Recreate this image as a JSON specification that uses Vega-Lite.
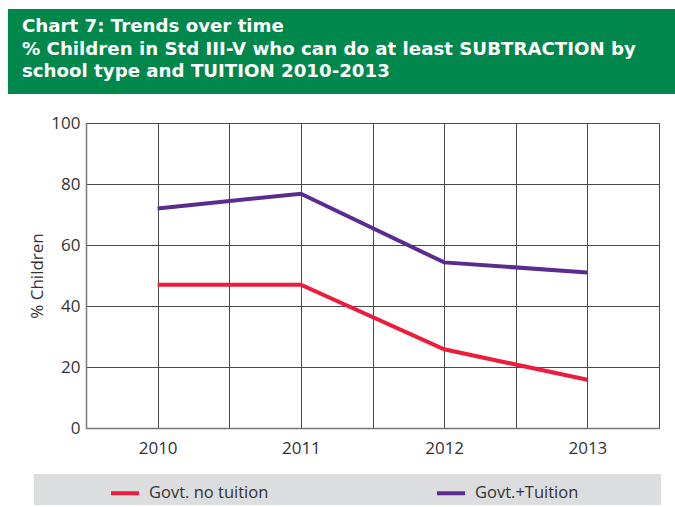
{
  "$schema": "https://vega.github.io/schema/vega-lite/v6.json",
  "background": "white",
  "padding": {"left": 8, "top": 9, "right": 0, "bottom": 0},
  "config": {"font": "Open Sans", "view": {"stroke": null}},
  "spacing": 20,
  "vconcat": [
    {
      "width": 667,
      "height": 85,
      "view": {"fill": "#00874b", "stroke": null},
      "data": {"values": [
        {"line": 1, "text": "Chart 7: Trends over time"},
        {"line": 2, "text": "% Children in Std III-V who can do at least SUBTRACTION by"},
        {"line": 3, "text": "school type and TUITION 2010-2013"}
      ]},
      "mark": {"type": "text", "align": "left", "baseline": "alphabetic", "color": "white", "font": "DejaVu Sans", "fontWeight": "bold", "fontSize": 18.2, "dx": 14, "dy": 3},
      "encoding": {
        "x": {"datum": 0, "type": "quantitative", "scale": {"domain": [0, 1]}, "axis": null},
        "y": {"field": "line", "type": "ordinal", "scale": {"type": "point", "padding": 0.89}, "axis": null},
        "text": {"field": "text"}
      }
    },
    {
      "width": 651,
      "height": 305,
      "view": {"stroke": null},
      "data": {"values": [
        {"year": 2010, "value": 47, "series": "Govt. no tuition"},
        {"year": 2011, "value": 47, "series": "Govt. no tuition"},
        {"year": 2012, "value": 25.8, "series": "Govt. no tuition"},
        {"year": 2013, "value": 15.8, "series": "Govt. no tuition"},
        {"year": 2010, "value": 72, "series": "Govt.+Tuition"},
        {"year": 2011, "value": 76.8, "series": "Govt.+Tuition"},
        {"year": 2012, "value": 54.3, "series": "Govt.+Tuition"},
        {"year": 2013, "value": 51, "series": "Govt.+Tuition"}
      ]},
      "mark": {"type": "line", "strokeWidth": 4},
      "encoding": {
        "x": {
          "field": "year", "type": "quantitative",
          "scale": {"domain": [2009.5, 2013.5], "range": [78, 651], "nice": false, "zero": false},
          "axis": {
            "values": [2009.5, 2010, 2010.5, 2011, 2011.5, 2012, 2012.5, 2013, 2013.5],
            "labelExpr": "datum.value % 1 === 0 ? datum.value : ''",
            "title": null, "ticks": false, "grid": true, "gridColor": "#4a4a4a",
            "domainColor": "#777777", "domainWidth": 1.5,
            "labelFontSize": 17, "labelColor": "#333333", "labelPadding": 12, "labelFont": "Open Sans"
          }
        },
        "y": {
          "field": "value", "type": "quantitative",
          "scale": {"domain": [0, 100], "nice": false},
          "axis": {
            "values": [0, 20, 40, 60, 80, 100],
            "offset": -78,
            "title": "% Children", "titleFontSize": 17, "titleFontWeight": "normal", "titleColor": "#333333", "titleFont": "Open Sans",
            "titleX": -40,
            "ticks": false, "grid": true, "gridColor": "#4a4a4a",
            "domainColor": "#777777", "domainWidth": 1.5,
            "labelFontSize": 17, "labelColor": "#333333", "labelPadding": 6, "labelFont": "Open Sans"
          }
        },
        "color": {
          "field": "series", "type": "nominal",
          "scale": {"domain": ["Govt. no tuition", "Govt.+Tuition"], "range": ["#ed1b3c", "#5b2c90"]},
          "legend": {
            "orient": "none", "legendX": 26, "legendY": 465, "direction": "horizontal",
            "title": " ", "titleOrient": "right", "titlePadding": 80, "titleFontSize": 8,
            "fillColor": "#dcdddf", "padding": 3,
            "symbolType": "stroke", "symbolSize": 784, "symbolStrokeWidth": 4, "symbolOffset": 72,
            "columnPadding": 94, "labelFontSize": 16.5, "labelColor": "#333333", "labelOffset": 8,
            "labelFont": "Open Sans", "labelLimit": 300
          }
        }
      }
    }
  ]
}
